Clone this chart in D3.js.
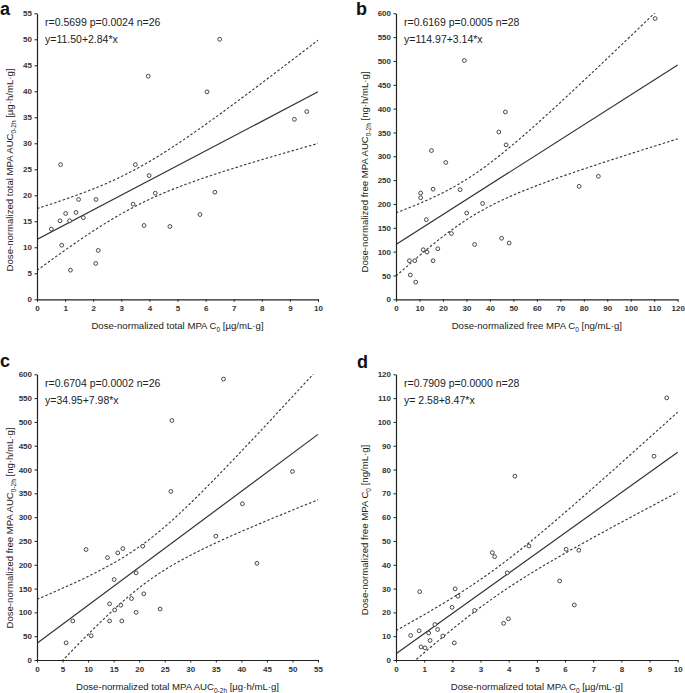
<!DOCTYPE html>
<html><head><meta charset="utf-8">
<script src="https://cdn.jsdelivr.net/npm/d3@7"></script>
<style>
body{margin:0;background:#fff;}
svg{display:block;font-family:"Liberation Sans",Arial,sans-serif;}
</style></head>
<body><svg id="chart" width="685" height="693"></svg>
<script>
// ---- data ----
const aX = [0.84,3.50,3.96,6.05,6.50,9.16,9.60,0.51,0.82,0.88,1.02,1.16,1.19,1.39,1.48,1.65,2.10,2.09,2.18,3.42,3.99,4.21,3.81,4.73,5.80,6.33];
const aY = [25.9,25.9,42.9,39.9,50.0,34.6,36.1,13.5,15.1,10.4,16.5,15.1,5.6,16.7,19.2,15.7,19.2,6.9,9.4,18.3,23.8,20.4,14.2,14.0,16.3,20.6];
const bX = [110.4,29.1,46.6,43.8,46.9,15.1,21.2,10.5,10.5,15.8,27.3,12.9,30.1,36.9,23.6,11.6,13.2,17.8,15.8,5.7,8.0,6.1,8.4,33.5,45.0,48.2,78.0,86.2];
const bY = [589,501,393,351,324,312,287,223,213,231,230,167,181,201,138,104,99,106,81,81,81,51,36,115,128,118,237,258];
const cX = [36.5,26.4,26.2,50.0,40.2,9.6,13.8,15.8,16.8,20.7,35.0,43.05,19.4,15.1,20.9,18.5,14.2,16.4,15.2,19.4,24.1,7.0,14.2,16.6,10.6,5.7];
const cY = [590,503,354,396,328,232,215,225,234,239,260,203,183,169,139,129,118,115,105,100,107,82,82,82,51,36];
const dX = [9.61,9.16,4.22,0.52,0.84,0.82,0.89,1.03,1.16,1.21,1.38,1.48,1.66,1.99,2.10,2.20,2.07,2.79,3.42,3.50,3.95,3.82,3.99,4.72,5.81,6.04,6.49,6.33];
const dY = [110.1,85.6,77.2,10.3,28.7,12.3,5.5,5.1,11.3,8.2,14.9,12.8,10.1,22.1,29.9,26.8,7.2,20.8,45.1,43.4,36.6,15.4,17.3,47.9,33.2,46.5,46.1,23.1];

const panelLetters = ["a","b","c","d"];
const statsText = ["r=0.5699 p=0.0024 n=26","r=0.6169 p=0.0005 n=28","r=0.6704 p=0.0002 n=26","r=0.7909 p=0.0000 n=28"];
const eqText = ["y=11.50+2.84*x","y=114.97+3.14*x","y=34.95+7.98*x","y= 2.58+8.47*x"];
const intercepts = [11.50,114.97,34.95,2.58];
const slopes = [2.84,3.14,7.98,8.47];
const tCrit = [2.064,2.056,2.064,2.056];
const xMax = [10,120,55,10];
const yMax = [55,600,600,120];
const xStep = [1,10,5,1];
const yStep = [5,50,50,10];
// axis titles: [main, subscript, rest]
const xTitles = [["Dose-normalized total MPA C","0"," [µg/mL·g]"],["Dose-normalized free MPA C","0"," [ng/mL·g]"],["Dose-normalized total MPA AUC","0-2h"," [µg·h/mL·g]"],["Dose-normalized total MPA C","0"," [µg/mL·g]"]];
const yTitles = [["Dose-normalized total MPA AUC","0-2h"," [µg·h/mL·g]"],["Dose-normalized free MPA AUC","0-2h"," [ng·h/mL·g]"],["Dose-normalized free MPA AUC","0-2h"," [ng·h/mL·g]"],["Dose-normalized free MPA C","0"," [ng/mL·g]"]];

const xs = [aX,bX,cX,dX], ys = [aY,bY,cY,dY];

// layout
const boxes = [
  {l:37, r:318, t:13.3, b:299.3, lx:0, ly:15, ytx:13, yty:170, xty:329},
  {l:396, r:677.7, t:13.3, b:299.3, lx:356, ly:15, ytx:368, yty:172, xty:329},
  {l:37, r:318, t:374.3, b:660, lx:0, ly:367, ytx:13, yty:528, xty:690},
  {l:396, r:677.7, t:374.3, b:660, lx:357, ly:368, ytx:368, yty:530, xty:690}
];

const svg = d3.select("#chart");
const ink = "#333";

function addTitle(sel, parts){
  sel.append("tspan").text(parts[0]);
  sel.append("tspan").attr("font-size","6.5px").attr("dy","2.5").text(parts[1]);
  sel.append("tspan").attr("dy","-2.5").text(parts[2]);
}

boxes.forEach((bx,i)=>{
  const g = svg.append("g");
  const x = d3.scaleLinear().domain([0,xMax[i]]).range([bx.l,bx.r]);
  const y = d3.scaleLinear().domain([0,yMax[i]]).range([bx.b,bx.t]);
  const clipId = "clip"+i;
  svg.append("clipPath").attr("id",clipId).append("rect")
    .attr("x",bx.l).attr("y",bx.t).attr("width",bx.r-bx.l+1).attr("height",bx.b-bx.t);

  // confidence band from data
  const X = xs[i], Y = ys[i], n = X.length;
  const mx = d3.mean(X);
  const sxx = d3.sum(X,v=>(v-mx)*(v-mx));
  const sse = d3.sum(X,(v,k)=>{const r=Y[k]-(intercepts[i]+slopes[i]*v);return r*r;});
  const s = Math.sqrt(sse/(n-2));
  const grid = d3.range(0,201).map(k=>k*xMax[i]/200);
  const fit = v=>intercepts[i]+slopes[i]*v;
  const half = v=>tCrit[i]*s*Math.sqrt(1/n+(v-mx)*(v-mx)/sxx);
  const line = d3.line().x(d=>x(d[0])).y(d=>y(d[1]));
  const cg = g.append("g").attr("clip-path",`url(#${clipId})`);
  cg.append("path").datum(grid.map(v=>[v,fit(v)+half(v)])).attr("d",line)
    .attr("fill","none").attr("stroke",ink).attr("stroke-width",1.1).attr("stroke-dasharray","2.5,2");
  cg.append("path").datum(grid.map(v=>[v,fit(v)-half(v)])).attr("d",line)
    .attr("fill","none").attr("stroke",ink).attr("stroke-width",1.1).attr("stroke-dasharray","2.5,2");
  cg.append("path").datum([[0,fit(0)],[xMax[i],fit(xMax[i])]]).attr("d",line)
    .attr("fill","none").attr("stroke",ink).attr("stroke-width",1.2);

  // points
  g.selectAll("circle.pt").data(X).join("circle").attr("class","pt")
    .attr("cx",v=>x(v)).attr("cy",(v,k)=>y(Y[k])).attr("r",1.9)
    .attr("fill","#fff").attr("stroke",ink).attr("stroke-width",0.9);

  // axes
  const xa = d3.axisBottom(x).tickValues(d3.range(0,xMax[i]+0.001,xStep[i])).tickSize(2.5).tickSizeOuter(0).tickPadding(4);
  const ya = d3.axisLeft(y).tickValues(d3.range(0,yMax[i]+0.001,yStep[i])).tickSize(2.5).tickSizeOuter(0).tickPadding(2.5);
  const gx = g.append("g").attr("transform",`translate(0,${bx.b})`).call(xa);
  const gy = g.append("g").attr("transform",`translate(${bx.l},0)`).call(ya);
  [gx,gy].forEach(a=>{
    a.select(".domain").attr("stroke","#222").attr("stroke-width",1.2);
    a.selectAll(".tick line").attr("stroke","#222");
    a.selectAll(".tick text").attr("fill","#333").attr("font-size","8px").attr("font-weight","bold")
      .attr("font-family","'Liberation Sans',Arial,sans-serif");
  });

  // panel letter
  g.append("text").attr("x",bx.lx).attr("y",bx.ly).attr("font-size","18px").attr("font-weight","bold")
    .attr("fill","#111").attr("font-family","Arial,'Liberation Sans',sans-serif").text(panelLetters[i]);

  // stats
  g.append("text").attr("x",bx.l+8).attr("y",bx.t+13).attr("font-size","10.5px").attr("fill","#222").text(statsText[i]);
  g.append("text").attr("x",bx.l+8).attr("y",bx.t+30).attr("font-size","10.5px").attr("fill","#222").text(eqText[i]);

  // axis titles
  const xt = g.append("text").attr("x",(bx.l+bx.r)/2).attr("y",bx.xty).attr("text-anchor","middle")
    .attr("font-size","9.6px").attr("fill","#222");
  addTitle(xt,xTitles[i]);
  const yt = g.append("text").attr("transform",`translate(${bx.ytx},${bx.yty}) rotate(-90)`)
    .attr("text-anchor","middle").attr("font-size","9.6px").attr("fill","#222");
  addTitle(yt,yTitles[i]);
});
</script></body></html>
